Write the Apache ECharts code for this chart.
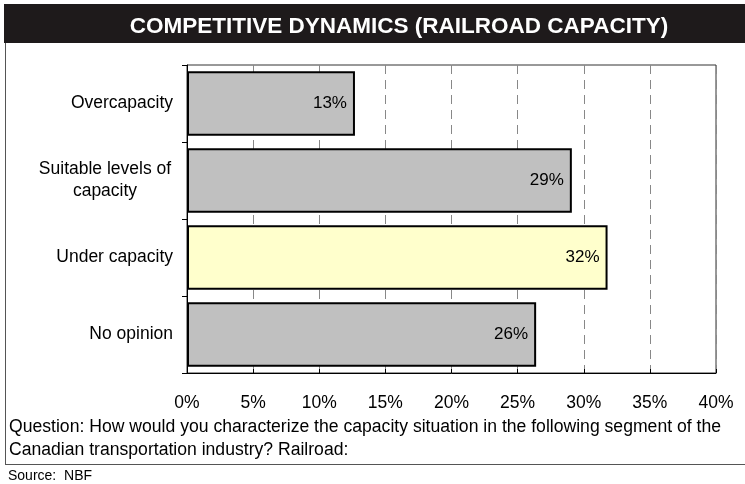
<!DOCTYPE html>
<html>
<head>
<meta charset="utf-8">
<script src="https://cdn.jsdelivr.net/npm/echarts@6/dist/echarts.min.js"></script>
<style>
html,body{margin:0;padding:0;background:#fff;}
#chart{width:745px;height:484px;}
</style>
</head>
<body>
<div id="chart"></div>
<script>
var titleText = 'COMPETITIVE DYNAMICS (RAILROAD CAPACITY)';
var categories = ['Overcapacity', 'Suitable levels of\ncapacity', 'Under capacity', 'No opinion'];
var values = [12.7, 29.1, 31.8, 26.4];
var highlightCategory = 'Under capacity';
var xTicks = [0, 5, 10, 15, 20, 25, 30, 35, 40];
var questionLines = [
  'Question: How would you characterize the capacity situation in the following segment of the',
  'Canadian transportation industry? Railroad:'
];
var sourceText = 'Source:  NBF';

var FONT = 'Liberation Sans, Arial, sans-serif';
var chart = echarts.init(document.getElementById('chart'), null, {renderer: 'canvas'});
var option = {
  backgroundColor: '#fff',
  animation: false,
  title: {
    text: titleText,
    left: 394,
    textAlign: 'center',
    top: 10,
    textStyle: {color: '#fff', fontSize: 22.5, fontWeight: 'bold', fontFamily: FONT}
  },
  grid: {
    left: 187, right: 29, top: 65, bottom: 111,
    show: true, borderColor: '#333', borderWidth: 1, backgroundColor: 'transparent'
  },
  xAxis: {
    type: 'value',
    min: xTicks[0], max: xTicks[xTicks.length - 1], interval: 5,
    axisLine: {show: true, lineStyle: {color: '#000', width: 1}},
    axisTick: {show: true, inside: true, length: 4, lineStyle: {color: '#000'}},
    axisLabel: {formatter: '{value}%', color: '#000', fontSize: 17.5, fontFamily: FONT, margin: 21},
    splitLine: {show: true, lineStyle: {color: '#888', type: [9, 6], width: 1}}
  },
  yAxis: {
    type: 'category',
    data: categories,
    inverse: true,
    axisLine: {show: true, lineStyle: {color: '#000', width: 1}},
    axisTick: {show: true, length: 5, lineStyle: {color: '#000'}},
    axisLabel: {
      color: '#000', fontSize: 17.5, fontFamily: FONT, margin: 14, lineHeight: 22, align: 'right',
      formatter: function (v) {
        if (v.indexOf('\n') < 0) return v;
        return v.split('\n').map(function (s) { return '{c|' + s + '}'; }).join('\n');
      },
      rich: {
        c: {width: 136, align: 'center', fontSize: 17.5, fontFamily: FONT, color: '#000', lineHeight: 22}
      }
    }
  },
  series: [{
    type: 'bar',
    data: values,
    barCategoryGap: '16%',
    itemStyle: {
      color: function (p) { return p.name === highlightCategory ? '#FFFFCC' : '#C0C0C0'; },
      borderColor: '#000',
      borderWidth: 2
    },
    label: {
      show: true,
      position: 'insideRight',
      distance: 8,
      formatter: function (p) { return Math.round(p.value) + '%'; },
      color: '#000', fontSize: 17, fontFamily: FONT
    }
  }],
  graphic: [
    {type: 'rect', z: -1, shape: {x: 4, y: 4, width: 800, height: 39}, style: {fill: '#1e1a1b'}},
    {type: 'line', shape: {x1: 5.5, y1: 43, x2: 5.5, y2: 465}, style: {stroke: '#555', lineWidth: 1}},
    {type: 'line', shape: {x1: 5, y1: 464.5, x2: 745, y2: 464.5}, style: {stroke: '#555', lineWidth: 1}},
    {type: 'text', left: 9, top: 418, style: {text: questionLines[0], fill: '#000', font: '17.6px ' + FONT}},
    {type: 'text', left: 9, top: 441, style: {text: questionLines[1], fill: '#000', font: '17.6px ' + FONT}},
    {type: 'text', left: 8, top: 469, style: {text: sourceText, fill: '#000', font: '14px ' + FONT}}
  ]
};
chart.setOption(option);
</script>
</body>
</html>
